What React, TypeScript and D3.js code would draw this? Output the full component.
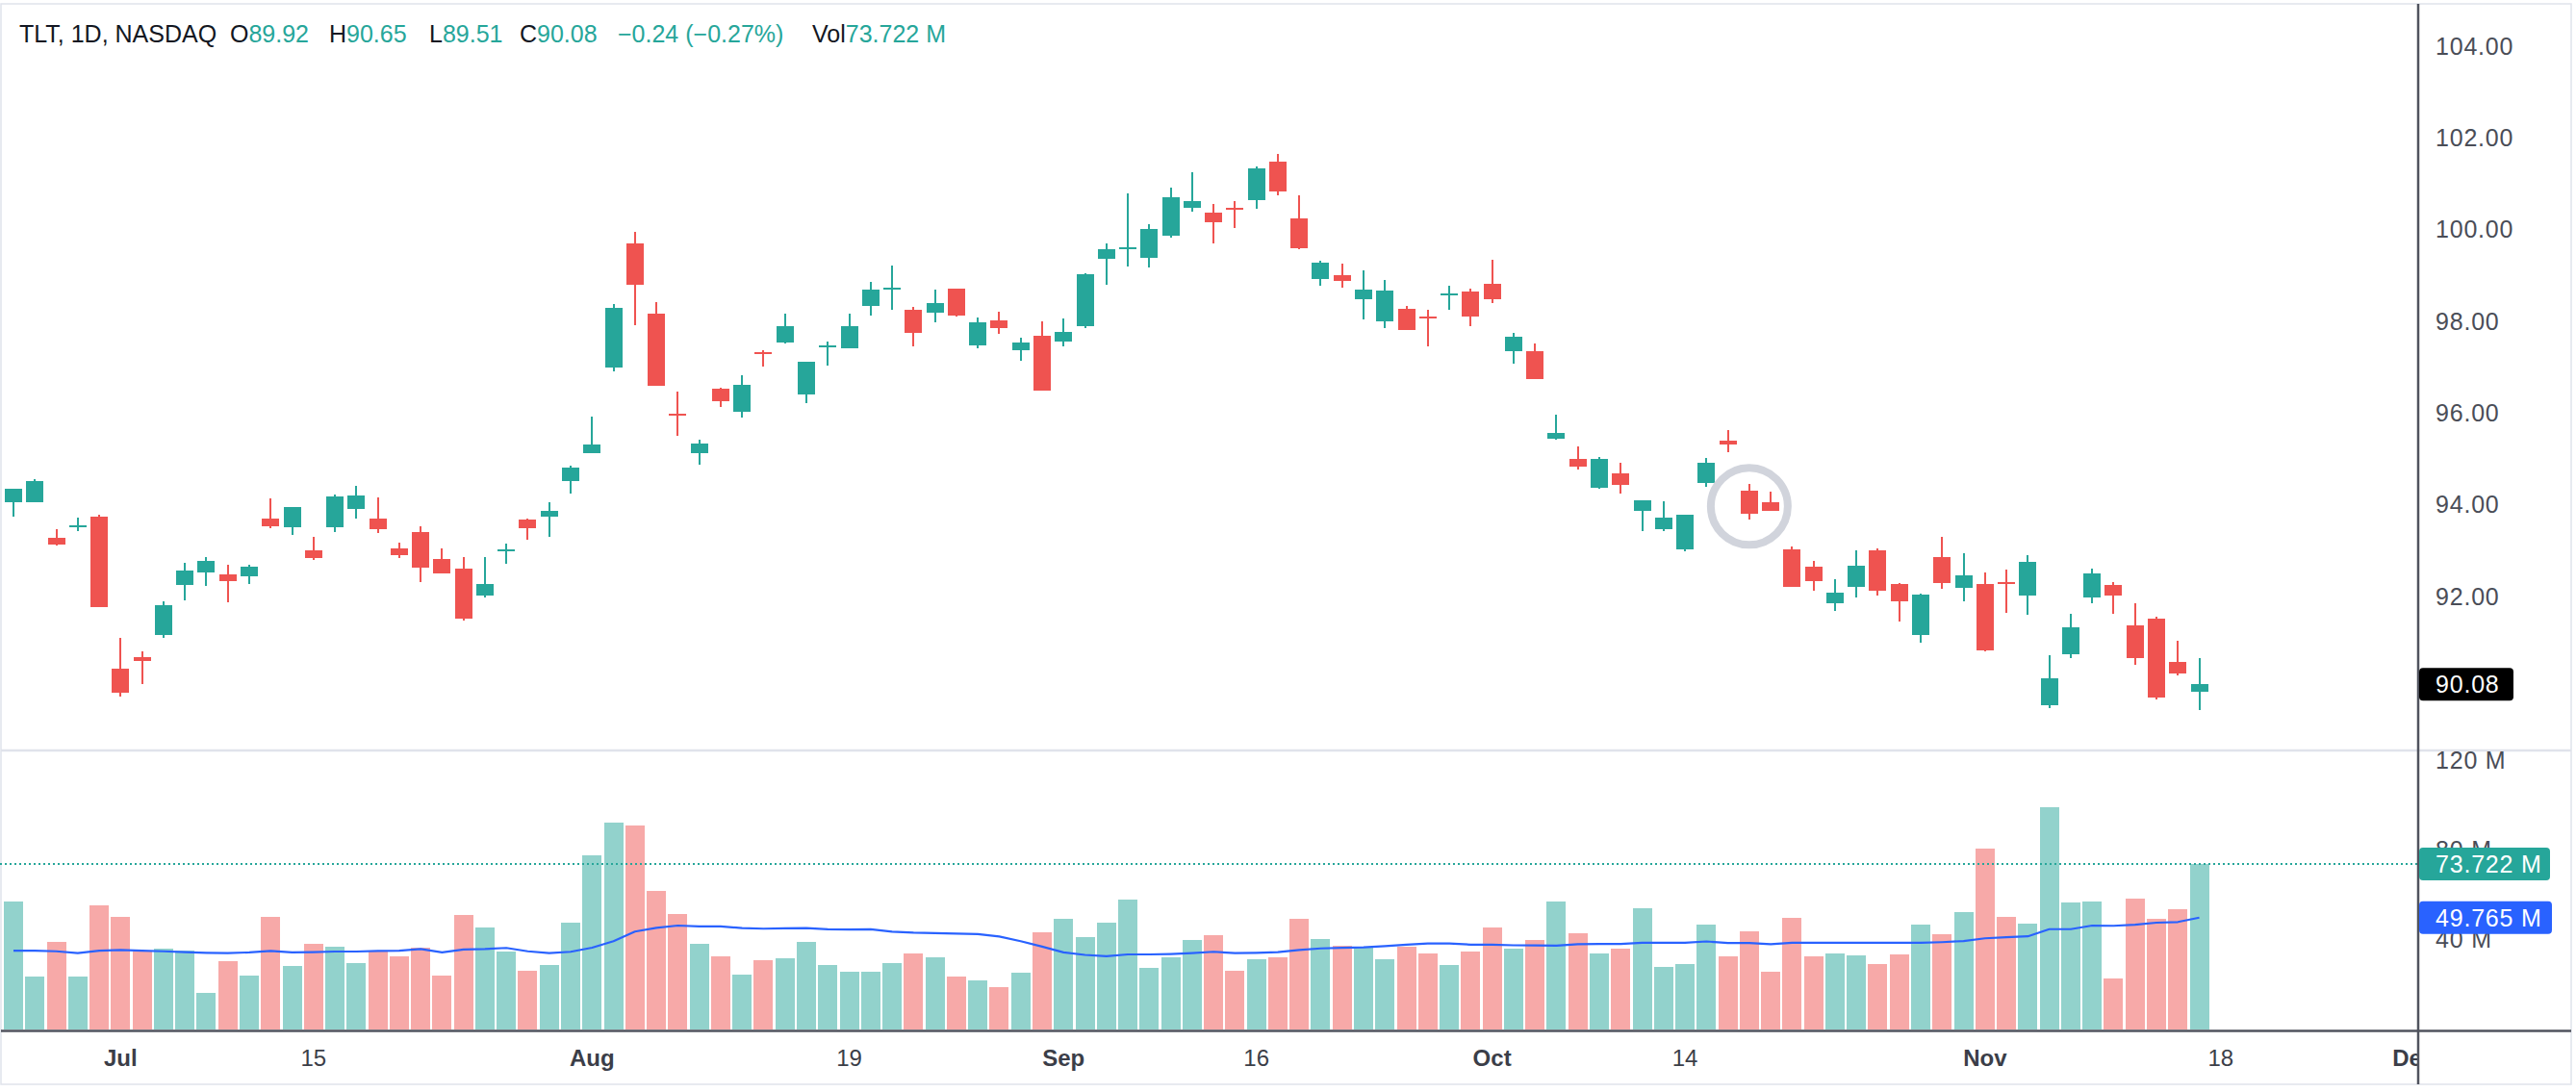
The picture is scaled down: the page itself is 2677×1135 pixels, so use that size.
import React from "react";
import * as d3 from "d3";

const W = 2677;
const H = 1135;

const tradingDays = [
  "2024-06-24","2024-06-25","2024-06-26","2024-06-27","2024-06-28",
  "2024-07-01","2024-07-02","2024-07-03","2024-07-05","2024-07-08","2024-07-09","2024-07-10","2024-07-11","2024-07-12",
  "2024-07-15","2024-07-16","2024-07-17","2024-07-18","2024-07-19","2024-07-22","2024-07-23","2024-07-24","2024-07-25","2024-07-26",
  "2024-07-29","2024-07-30","2024-07-31",
  "2024-08-01","2024-08-02","2024-08-05","2024-08-06","2024-08-07","2024-08-08","2024-08-09","2024-08-12","2024-08-13","2024-08-14",
  "2024-08-15","2024-08-16","2024-08-19","2024-08-20","2024-08-21","2024-08-22","2024-08-23","2024-08-26","2024-08-27","2024-08-28",
  "2024-08-29","2024-08-30",
  "2024-09-03","2024-09-04","2024-09-05","2024-09-06","2024-09-09","2024-09-10","2024-09-11","2024-09-12","2024-09-13","2024-09-16",
  "2024-09-17","2024-09-18","2024-09-19","2024-09-20","2024-09-23","2024-09-24","2024-09-25","2024-09-26","2024-09-27","2024-09-30",
  "2024-10-01","2024-10-02","2024-10-03","2024-10-04","2024-10-07","2024-10-08","2024-10-09","2024-10-10","2024-10-11","2024-10-14",
  "2024-10-15","2024-10-16","2024-10-17","2024-10-18","2024-10-21","2024-10-22","2024-10-23","2024-10-24","2024-10-25","2024-10-28",
  "2024-10-29","2024-10-30","2024-10-31",
  "2024-11-01","2024-11-04","2024-11-05","2024-11-06","2024-11-07","2024-11-08","2024-11-11","2024-11-12","2024-11-13","2024-11-14",
  "2024-11-15",
];

const openPrices = [
  94.04, 94.05, 93.27, 93.50, 93.74, 90.42, 90.67, 91.15, 92.25, 92.51,
  92.47, 92.43, 93.69, 93.50, 93.00, 93.50, 93.90, 93.69, 93.04, 93.39,
  92.81, 92.60, 92.02, 92.98, 93.67, 93.74, 94.51, 95.12, 96.99, 99.70,
  98.16, 95.98, 95.11, 96.52, 96.03, 97.33, 97.53, 96.41, 97.43, 97.41,
  98.32, 98.69, 98.24, 98.19, 98.71, 97.48, 98.02, 97.37, 97.68, 97.56,
  97.88, 99.35, 99.56, 99.39, 99.87, 100.48, 100.37, 100.47, 100.63, 101.48,
  100.24, 98.91, 99.00, 98.48, 98.00, 98.27, 98.10, 98.57, 98.64, 98.82,
  97.35, 97.35, 95.44, 94.99, 94.37, 94.68, 93.87, 93.47, 93.03, 94.46,
  95.39, 94.30, 94.05, 93.02, 92.64, 91.84, 92.21, 93.00, 92.27, 91.16,
  92.86, 92.19, 92.27, 92.31, 92.02, 89.63, 90.74, 91.98, 92.25, 91.36,
  91.51, 90.56, 89.92,
];
const highPrices = [
  94.34, 94.55, 93.46, 93.71, 93.78, 91.09, 90.80, 91.89, 92.73, 92.86,
  92.68, 92.68, 94.13, 93.94, 93.30, 94.22, 94.41, 94.16, 93.17, 93.53,
  93.04, 92.86, 92.86, 93.15, 93.69, 94.05, 94.85, 95.92, 98.37, 99.94,
  98.42, 96.46, 95.41, 96.55, 96.82, 97.36, 98.16, 97.11, 97.55, 98.16,
  98.86, 99.21, 98.31, 98.69, 98.71, 98.08, 98.20, 97.64, 97.99, 98.06,
  99.05, 99.70, 100.78, 100.11, 100.91, 101.25, 100.56, 100.62, 101.37, 101.65,
  100.74, 99.31, 99.26, 99.11, 98.90, 98.33, 98.24, 98.77, 98.71, 99.34,
  97.74, 97.51, 95.96, 95.27, 95.04, 94.91, 94.09, 94.07, 93.78, 95.01,
  95.62, 94.45, 94.28, 93.09, 92.77, 92.37, 93.00, 93.04, 92.29, 92.06,
  93.30, 92.94, 92.51, 92.58, 92.90, 90.72, 91.62, 92.60, 92.31, 91.84,
  91.55, 91.03, 90.65,
];
const lowPrices = [
  93.74, 94.05, 93.10, 93.43, 91.76, 89.81, 90.08, 91.10, 91.91, 92.22,
  91.87, 92.27, 93.48, 93.34, 92.79, 93.39, 93.69, 93.38, 92.83, 92.31,
  92.50, 91.47, 91.97, 92.71, 93.23, 93.30, 94.24, 95.12, 96.91, 97.92,
  96.58, 95.50, 94.86, 96.12, 95.89, 97.00, 97.52, 96.22, 97.02, 97.41,
  98.13, 98.24, 97.44, 97.98, 98.09, 97.41, 97.73, 97.14, 96.49, 97.44,
  97.84, 98.80, 99.20, 99.18, 99.83, 100.38, 99.70, 100.04, 100.44, 100.75,
  99.56, 98.77, 98.73, 98.04, 97.85, 97.81, 97.44, 98.24, 97.89, 98.40,
  97.08, 96.74, 95.42, 94.77, 94.35, 94.24, 93.43, 93.43, 92.99, 94.39,
  95.14, 93.67, 93.87, 92.21, 92.11, 91.67, 91.98, 92.02, 91.44, 90.99,
  92.17, 91.88, 90.80, 91.64, 91.59, 89.57, 90.66, 91.85, 91.62, 90.51,
  89.74, 90.28, 89.51,
];
const closePrices = [
  94.34, 94.51, 93.13, 93.54, 91.76, 89.89, 90.59, 91.80, 92.56, 92.77,
  92.33, 92.64, 93.53, 93.94, 92.83, 94.17, 94.19, 93.46, 92.90, 92.62,
  92.50, 91.51, 92.27, 93.02, 93.48, 93.86, 94.81, 95.31, 98.29, 98.80,
  96.58, 95.94, 95.33, 96.26, 96.61, 97.29, 97.89, 97.11, 97.47, 97.89,
  98.69, 98.73, 97.75, 98.39, 98.13, 97.97, 97.84, 97.53, 96.49, 97.76,
  99.02, 99.57, 99.60, 100.01, 100.70, 100.62, 100.15, 100.42, 101.33, 100.83,
  99.58, 99.27, 98.88, 98.69, 98.67, 97.81, 98.06, 98.60, 98.09, 98.48,
  97.66, 96.74, 95.56, 94.82, 94.99, 94.43, 94.09, 93.71, 93.78, 94.91,
  95.30, 93.79, 93.87, 92.21, 92.32, 92.07, 92.66, 92.13, 91.88, 92.03,
  92.29, 92.46, 90.82, 92.28, 92.75, 90.21, 91.32, 92.50, 92.02, 90.66,
  89.79, 90.32, 90.08,
];

// volume in millions of shares
const volumes = [
  57.0, 23.4, 38.9, 23.4, 55.2, 50.1, 34.7, 35.9, 35.0, 16.1,
  30.3, 23.9, 50.1, 28.2, 38.0, 36.8, 29.4, 34.7, 32.5, 36.3,
  23.9, 50.9, 45.4, 34.6, 26.0, 28.6, 47.5, 77.6, 92.2, 90.9,
  61.7, 51.4, 38.0, 32.5, 24.3, 30.7, 31.6, 38.9, 28.6, 25.6,
  25.6, 29.4, 33.7, 32.0, 23.4, 21.7, 18.7, 25.2, 43.2, 49.2,
  41.1, 47.5, 57.8, 27.3, 32.0, 39.8, 41.9, 26.0, 31.2, 32.0,
  49.2, 40.2, 37.2, 36.3, 31.2, 36.8, 33.7, 28.6, 34.6, 45.4,
  35.9, 39.8, 57.0, 42.8, 33.7, 35.9, 54.0, 27.7, 29.0, 46.6,
  32.5, 43.6, 25.6, 49.7, 32.5, 33.7, 32.9, 29.0, 33.3, 46.6,
  42.3, 52.2, 80.6, 50.1, 47.1, 99.1, 56.5, 57.0, 22.6, 58.3,
  49.2, 53.5, 73.722,
];

// volume moving average (millions)
const volumeMA = [
  35.0, 35.0, 34.7, 33.9, 35.0, 35.3, 35.0, 34.7, 34.3, 34.0,
  33.9, 34.2, 34.9, 34.2, 34.3, 34.6, 34.6, 34.9, 35.0, 35.7,
  34.2, 35.5, 35.7, 36.2, 34.7, 33.9, 34.5, 36.3, 39.2, 43.5,
  45.2, 46.2, 45.8, 45.8, 45.1, 44.8, 45.0, 45.1, 44.5, 44.4,
  44.5, 43.5, 43.0, 42.8, 42.6, 42.4, 41.3, 39.2, 36.8, 34.2,
  33.1, 32.5, 33.3, 33.3, 33.5, 33.9, 34.5, 33.9, 34.0, 34.3,
  35.3, 36.0, 36.3, 36.5, 37.0, 37.7, 38.2, 38.2, 37.7, 37.7,
  37.4, 37.3, 37.2, 37.9, 38.0, 38.0, 38.5, 38.5, 38.5, 39.1,
  38.4, 38.4, 37.9, 38.5, 38.5, 38.5, 38.5, 38.5, 38.5, 38.5,
  38.8, 39.3, 40.5, 41.0, 41.4, 44.6, 44.6, 46.2, 46.1, 46.6,
  47.5, 47.8, 49.765,
];

// time axis: labels and the bar slot they sit on (slots past the data are future sessions)
const timeTickLabels = ["Jul", "15", "Aug", "19", "Sep", "16", "Oct", "14", "Nov", "18", "Dec"];
const timeTickSlots = [5, 14, 27, 39, 49, 58, 69, 78, 92, 103, 112];
const timeTickIsMonth = [true, false, true, false, true, false, true, false, true, false, true];

const priceTicks = [92, 94, 96, 98, 100, 102, 104];
const volumeTicks = [40, 80, 120];

const symbolTitle = "TLT, 1D, NASDAQ";
const annotationSlot = 81;
const annotationPrice = 93.96;

const UP = "#26a69a";
const DOWN = "#ef5350";
const UP_VOL = "#92d2cc";
const DOWN_VOL = "#f7a9a8";
const MA_BLUE = "#2962ff";
const AXIS_DARK = "#50535e";
const BORDER = "#e0e3eb";
const TEXT = "#131722";
const FONT = "'Liberation Sans', Arial, Helvetica, sans-serif";

export default function App() {
  const n = tradingDays.length;
  const axisX = 2513;

  const x = d3.scaleLinear().domain([0, 112]).range([14, 14 + 112 * 22.27]);
  const y = d3.scaleLinear().domain([92, 104]).range([619.7, 47.8]);
  const yv = d3.scaleLinear().domain([0, 120]).range([1069.5, 790.3]);

  const bodyW = 18;
  const volW = 20;

  const maLine = d3
    .line<number>()
    .x((_, i) => x(i))
    .y((v) => yv(v))
    .curve(d3.curveLinear)(volumeMA) as string;

  const last = n - 1;
  const lastClose = closePrices[last];
  const prevClose = closePrices[last - 1];
  const chg = lastClose - prevClose;
  const chgPct = (chg / prevClose) * 100;
  const fmtSigned = (v: number, d: number) => (v < 0 ? "\u2212" : "+") + Math.abs(v).toFixed(d);
  const lastVol = volumes[last];
  const lastMA = volumeMA[last];

  const headerY = 44;
  const hdrFont = 25;

  const axisFont = 25;
  const labelX = 2531;

  return (
    <svg
      width={W}
      height={H}
      viewBox={`0 0 ${W} ${H}`}
      style={{ position: "absolute", left: 0, top: 0, background: "#ffffff", fontFamily: FONT }}
    >
      <defs>
        <clipPath id="plotClip">
          <rect x={0} y={4} width={axisX - 1} height={1068} />
        </clipPath>
        <clipPath id="timeClip">
          <rect x={0} y={1072} width={axisX - 1} height={56} />
        </clipPath>
      </defs>
      <rect x={0} y={0} width={W} height={H} fill="#ffffff" />

      {/* outer frame */}
      <rect x={1} y={4} width={2671} height={1123} fill="none" stroke={BORDER} strokeWidth={1.5} />

      {/* pane separator */}
      <line x1={1} x2={2672} y1={780} y2={780} stroke={BORDER} strokeWidth={2.5} />

      <g clipPath="url(#plotClip)">
        {/* volume bars */}
        {volumes.map((v, i) => (
          <rect
            key={`v${i}`}
            x={x(i) - volW / 2}
            y={yv(v)}
            width={volW}
            height={yv(0) - yv(v)}
            fill={closePrices[i] >= openPrices[i] ? UP_VOL : DOWN_VOL}
            shapeRendering="crispEdges"
          />
        ))}
        {/* volume MA */}
        <path d={maLine} fill="none" stroke={MA_BLUE} strokeWidth={2.2} strokeLinejoin="round" />
        {/* last volume dotted line */}
        <line
          x1={0}
          x2={axisX}
          y1={yv(lastVol)}
          y2={yv(lastVol)}
          stroke={UP}
          strokeWidth={2}
          strokeDasharray="2 3"
        />

        {/* candles */}
        {tradingDays.map((d, i) => {
          const o = openPrices[i];
          const c = closePrices[i];
          const col = c >= o ? UP : DOWN;
          const top = y(Math.max(o, c));
          const bot = y(Math.min(o, c));
          const cx = Math.round(x(i));
          return (
            <g key={d}>
              <rect
                x={cx - 1}
                y={y(highPrices[i])}
                width={2}
                height={y(lowPrices[i]) - y(highPrices[i])}
                fill={col}
                shapeRendering="crispEdges"
              />
              <rect
                x={cx - bodyW / 2}
                y={top}
                width={bodyW}
                height={Math.max(2, bot - top)}
                fill={col}
                shapeRendering="crispEdges"
              />
            </g>
          );
        })}

        {/* annotation ring */}
        <circle
          cx={x(annotationSlot)}
          cy={y(annotationPrice)}
          r={40}
          fill="none"
          stroke="#d1d4dc"
          strokeWidth={8}
        />
      </g>

      {/* time axis line */}
      <line x1={1} x2={2672} y1={1071.5} y2={1071.5} stroke={AXIS_DARK} strokeWidth={2.5} />

      {/* time labels */}
      <g clipPath="url(#timeClip)">
        {timeTickLabels.map((t, k) => (
          <text
            key={t + k}
            x={x(timeTickSlots[k])}
            y={1108}
            textAnchor="middle"
            fontSize={24}
            fontWeight={timeTickIsMonth[k] ? 700 : 400}
            fill="#3b3e48"
          >
            {t}
          </text>
        ))}
      </g>

      {/* right axis line */}
      <line x1={axisX} x2={axisX} y1={4} y2={1127} stroke={AXIS_DARK} strokeWidth={2.5} />

      {/* price scale labels */}
      {priceTicks.map((p) => (
        <text
          key={`p${p}`}
          x={labelX}
          y={y(p)}
          dy="0.36em"
          fontSize={axisFont}
          letterSpacing={0.8}
          fill="#4a4d57"
        >
          {p.toFixed(2)}
        </text>
      ))}
      {/* volume scale labels */}
      {volumeTicks.map((v) => (
        <text
          key={`vt${v}`}
          x={labelX}
          y={yv(v)}
          dy="0.36em"
          fontSize={axisFont}
          letterSpacing={0.8}
          fill="#4a4d57"
        >
          {`${v} M`}
        </text>
      ))}

      {/* last price label */}
      <g>
        <rect x={axisX + 1} y={y(lastClose) - 17} width={98} height={34} rx={4} fill="#000000" />
        <text x={labelX} y={y(lastClose)} dy="0.36em" fontSize={axisFont} letterSpacing={0.8} fill="#ffffff">
          {lastClose.toFixed(2)}
        </text>
      </g>
      {/* last volume label */}
      <g>
        <rect x={axisX + 1} y={yv(lastVol) - 17} width={136} height={34} rx={4} fill={UP} />
        <text x={labelX} y={yv(lastVol)} dy="0.36em" fontSize={axisFont} letterSpacing={0.8} fill="#ffffff">
          {`${lastVol.toFixed(3)} M`}
        </text>
      </g>
      {/* MA label */}
      <g>
        <rect x={axisX + 1} y={yv(lastMA) - 17} width={138} height={34} rx={4} fill={MA_BLUE} />
        <text x={labelX} y={yv(lastMA)} dy="0.36em" fontSize={axisFont} letterSpacing={0.8} fill="#ffffff">
          {`${lastMA.toFixed(3)} M`}
        </text>
      </g>

      {/* header legend */}
      <g fontSize={hdrFont}>
        <text x={20} y={headerY} fill={TEXT}>{symbolTitle}</text>
        <text x={239} y={headerY}>
          <tspan fill={TEXT}>O</tspan>
          <tspan fill={UP}>{openPrices[last].toFixed(2)}</tspan>
        </text>
        <text x={342} y={headerY}>
          <tspan fill={TEXT}>H</tspan>
          <tspan fill={UP}>{highPrices[last].toFixed(2)}</tspan>
        </text>
        <text x={446} y={headerY}>
          <tspan fill={TEXT}>L</tspan>
          <tspan fill={UP}>{lowPrices[last].toFixed(2)}</tspan>
        </text>
        <text x={540} y={headerY}>
          <tspan fill={TEXT}>C</tspan>
          <tspan fill={UP}>{lastClose.toFixed(2)}</tspan>
        </text>
        <text x={642} y={headerY} fill={UP}>
          {`${fmtSigned(chg, 2)} (${fmtSigned(chgPct, 2)}%)`}
        </text>
        <text x={844} y={headerY}>
          <tspan fill={TEXT}>Vol</tspan>
          <tspan fill={UP}>{`${lastVol.toFixed(3)} M`}</tspan>
        </text>
      </g>
    </svg>
  );
}
